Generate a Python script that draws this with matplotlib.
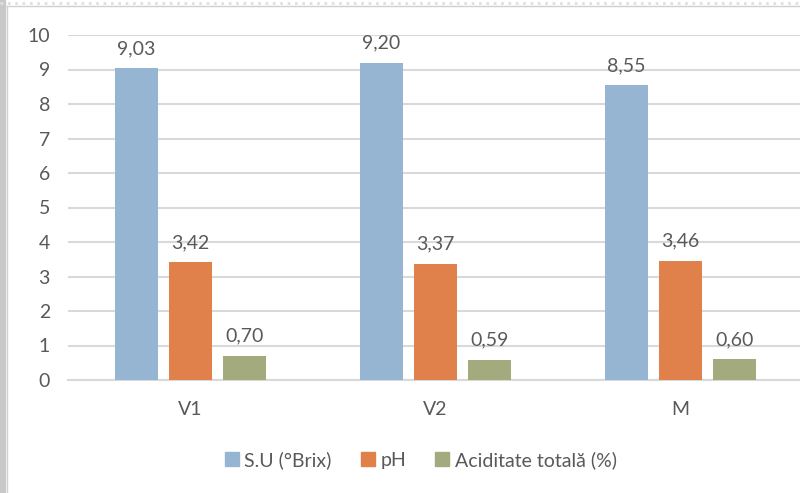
import matplotlib
matplotlib.use("Agg")
import matplotlib.pyplot as plt
import numpy as np
from matplotlib.patches import Rectangle
from matplotlib.lines import Line2D

categories = ["V1", "V2", "M"]
series_names = ["S.U (°Brix)", "pH", "Aciditate totală (%)"]
su_brix = [9.03, 9.20, 8.55]
ph = [3.42, 3.37, 3.46]
aciditate = [0.70, 0.59, 0.60]
yticks = [0, 1, 2, 3, 4, 5, 6, 7, 8, 9, 10]

colors = ["#95B5D3", "#E0804A", "#A3AA7D"]
text_color = "#595959"
grid_color = "#D9D9D9"

plt.rcParams['font.family'] = ['Lato', 'DejaVu Sans']
fs = 14

fig = plt.figure(figsize=(8, 4.93), dpi=100)
ax = fig.add_axes([68/800, 113/493, 735/800, 345/493])

x = np.arange(len(categories))
width = 0.175
offset = 0.22
for i, (vals, name) in enumerate(zip([su_brix, ph, aciditate], series_names)):
    pos = x + (i - 1) * offset
    bars = ax.bar(pos, vals, width, color=colors[i], label=name, zorder=3)
    for b, v in zip(bars, vals):
        ax.annotate(f"{v:.2f}".replace(".", ","), (b.get_x() + b.get_width()/2, v),
                    xytext=(0, 8), textcoords="offset points", ha="center", va="bottom",
                    fontsize=fs, color=text_color)

ax.set_xlim(-0.5, 2.5)
ax.set_ylim(0, 10)
ax.set_yticks(yticks)
ax.set_xticks(x)
ax.set_xticklabels(categories)
ax.tick_params(axis="both", length=0, labelsize=fs, labelcolor=text_color)
ax.tick_params(axis="y", pad=13)
ax.tick_params(axis="x", pad=15)
ax.yaxis.grid(True, color=grid_color, linewidth=1.5, zorder=0)
for s in ["top", "right", "left"]:
    ax.spines[s].set_visible(False)
ax.spines["bottom"].set_color(grid_color)
ax.spines["bottom"].set_linewidth(1.5)

handles = [Rectangle((0, 0), 1, 1, color=c) for c in colors]
fig.legend(handles, series_names, loc="center", bbox_to_anchor=(0.526, 1 - 460/493),
           ncol=3, frameon=False, fontsize=fs, labelcolor=text_color,
           handlelength=0.7, handleheight=0.7, handletextpad=0.3, columnspacing=1.5)

# frame decorations
fig.patches.append(Rectangle((0, 0), 5/800, 1, transform=fig.transFigure, color="#C8C8C8", zorder=0))
fig.lines.append(Line2D([7/800, 7/800], [0, 1 - 6/493], transform=fig.transFigure, color="#D0D0D0", linewidth=1))
fig.lines.append(Line2D([0, 1], [1 - 3/493, 1 - 3/493], transform=fig.transFigure, color="#E0E0E0", linewidth=2, linestyle=":"))
fig.lines.append(Line2D([7/800, 1], [1 - 6/493, 1 - 6/493], transform=fig.transFigure, color="#D0D0D0", linewidth=1))

fig.savefig("out.png", dpi=100, facecolor="white")
